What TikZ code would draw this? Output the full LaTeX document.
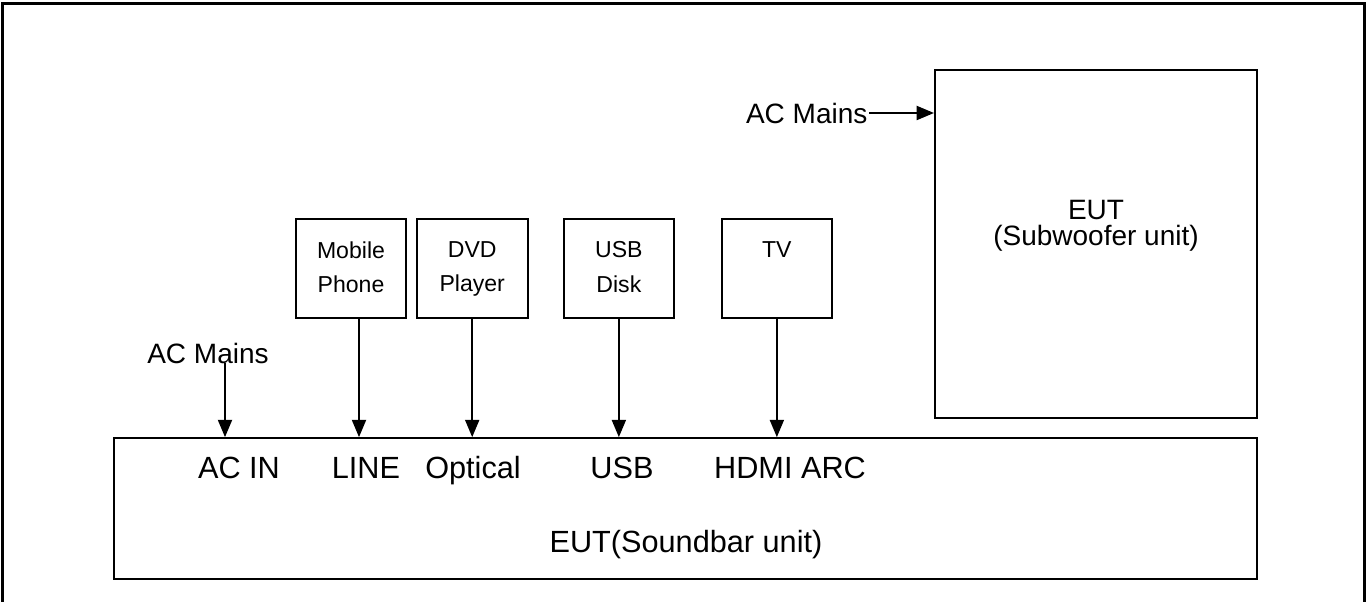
\documentclass[tikz,border=0pt]{standalone}
\usepackage{fontspec}
\setmainfont{Liberation Sans}
\usetikzlibrary{positioning, arrows.meta}

\begin{document}
\begin{tikzpicture}[
    x=0.75pt, y=-0.75pt,
    node distance=6.4pt,
    unit/.style={draw, line width=1.5pt, inner sep=0pt},
    device/.style={unit, minimum width=83pt, minimum height=73.5pt},
    devlabel/.style={anchor=north, align=center, inner sep=0pt, yshift=-17pt,
      font=\fontsize{17.3}{26}\selectfont},
    port/.style={anchor=base, font=\fontsize{23}{27}\selectfont},
    mains/.style={font=\fontsize{21}{25}\selectfont, inner sep=1pt},
    arrow/.style={-{Triangle[length=13pt, width=10.5pt]}, line width=1.5pt}
  ]
    \useasboundingbox (0,0) rectangle (1370,602);
    % outer frame, open at the bottom
    \draw[line width=2.25pt] (2,620) -- (2,4) -- (1364,4) -- (1364,620);

    % the two units
    \node[unit, minimum width=857pt, minimum height=105.5pt] (bar) at (685.5,508.5) {};
    \node[unit, minimum width=241.5pt, minimum height=261pt] (sub) at (1096,244) {};
    \node[align=center, font=\fontsize{21}{19.5}\selectfont] (subname) at (1096,226) {EUT\\(Subwoofer unit)};

    % sources
    \node[device, label={[devlabel]north:Mobile\\Phone}] (mob) at (351,268.5) {};
    \node[device, right=of mob, label={[devlabel]north:DVD\\Player}] (dvd) {};
    \node[device, right=25.5pt of dvd, label={[devlabel]north:USB\\Disk}] (usb) {};
    \node[device, right=34pt of usb, label={[devlabel]north:TV}] (tv) {};

    % inputs of the soundbar
    \node[port] (acin) at (239,478) {AC IN};
    \node[port] (line) at (366,478) {LINE};
    \node[port] (optical) at (473,478) {Optical};
    \node[port] (usbin) at (622,478) {USB};
    \node[port] (hdmi) at (790,478) {HDMI ARC};
    \node[port] (barname) at (686,552) {EUT(Soundbar unit)};

    \node[mains, anchor=base] (mainsa) at (208,363) {AC Mains};
    \node[mains, anchor=east] (mainsb) at (869,113) {AC Mains};

    \draw[arrow] ([xshift=12.75pt]mainsa.base) -- ([xshift=12.75pt]mainsa.base |- bar.north);
    \draw[arrow] (mainsb.east) -- (mainsb.east -| sub.west);
    \draw[arrow] ([xshift=6pt]mob.south) -- ([xshift=6pt]mob.south |- bar.north);
    \foreach \d in {dvd,usb,tv}
      \draw[arrow] (\d.south) -- (\d.south |- bar.north);
  \end{tikzpicture}
\end{document}
